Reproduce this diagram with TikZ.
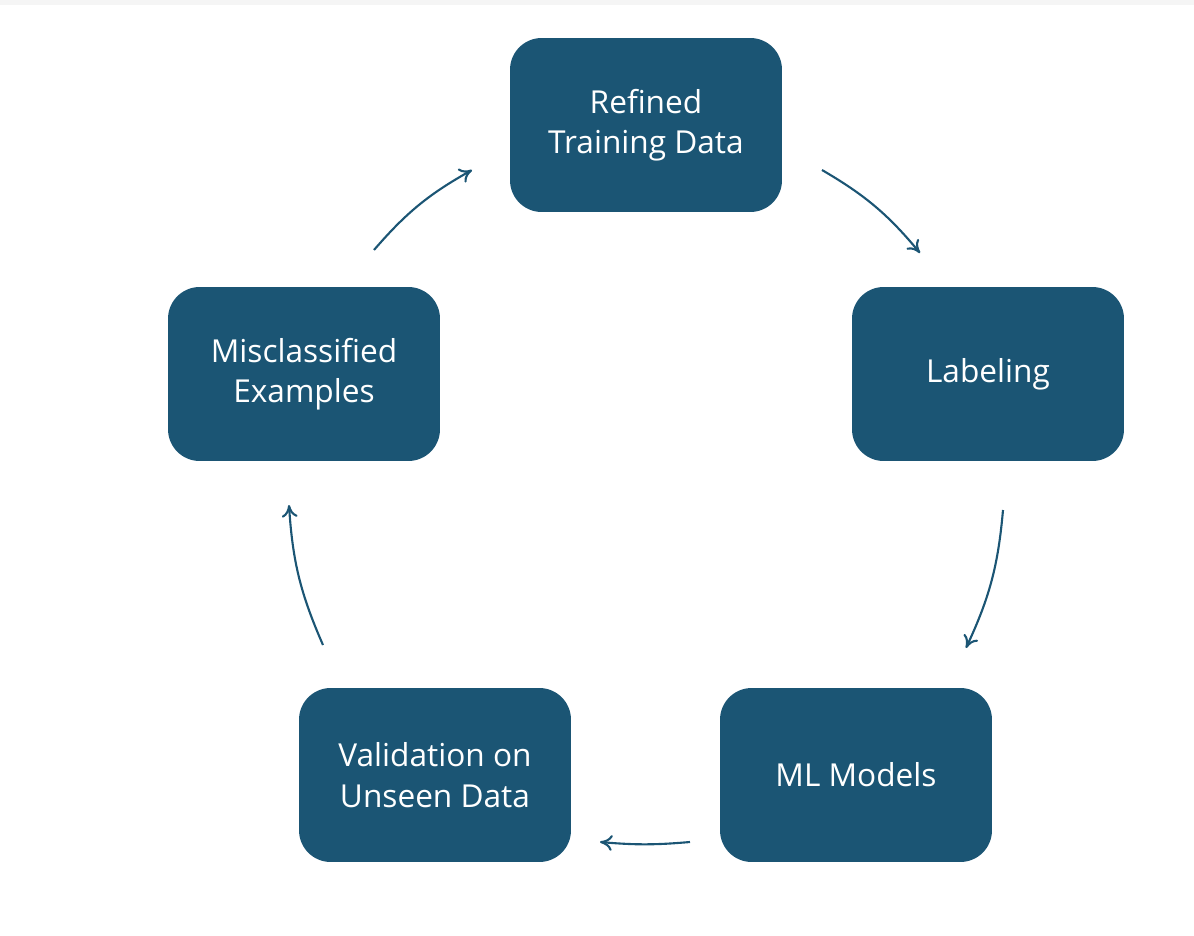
\documentclass[tikz,border=0pt]{standalone}
\usepackage{fontspec}
\setmainfont{Open Sans}
\usetikzlibrary{arrows.meta, positioning}
\definecolor{petrol}{RGB}{27,85,116}
\tikzset{>=Stealth,
  stage/.style={draw=none, fill=petrol, rounded corners=18pt, minimum width=5.44cm, minimum height=3.48cm, text=white, align=center, font=\fontsize{18}{23}\selectfont},
  flow/.style={petrol, line width=1.2pt, -{To[length=7pt,width=9pt]}}}
\begin{document}
\begin{tikzpicture}[x=0.02cm, y=-0.02cm]
			\useasboundingbox (0,0) rectangle (1194,936);
			\fill [gray!8] (0,0) rectangle (1194,5);

			\node [stage] (refined) at (646,125) {Refined\\Training Data};
			\node [stage] (label) at (988,374) {Labeling};
			\node [stage] (models) at (856,775) {ML Models};
			\node [stage] (valid) at (435,775) {Validation on\\Unseen Data};
			\node [stage] (miscl) at (304,374) {Misclassified\\Examples};

			% arrow ends
			\coordinate (a1) at (822,170); \coordinate (b1) at (920,253);
			\coordinate (a2) at (1003,510); \coordinate (b2) at (966,648);
			\coordinate (a3) at (690,842); \coordinate (b3) at (600,842);
			\coordinate (a4) at (323,645); \coordinate (b4) at (289,505);
			\coordinate (a5) at (374,250); \coordinate (b5) at (472,170);

			\draw [flow] (a1) to[bend left=10] (b1);
			\draw [flow] (a2) to[bend left=10] (b2);
			\draw [flow] (a3) to[bend left=5] (b3);
			\draw [flow] (a4) to[bend left=10] (b4);
			\draw [flow] (a5) to[bend left=10] (b5);
	\end{tikzpicture}
\end{document}
